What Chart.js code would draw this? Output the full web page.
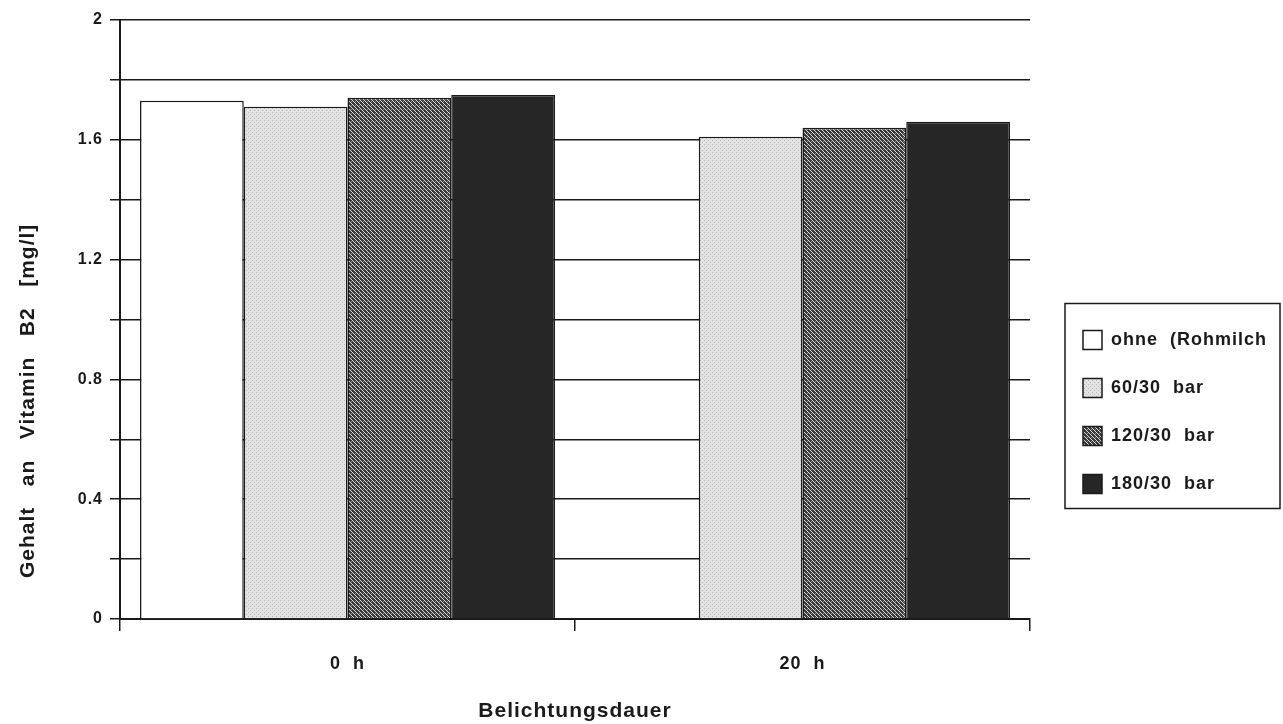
<!DOCTYPE html>
<html>
<head>
<meta charset="utf-8">
<script src="https://cdn.jsdelivr.net/npm/chart.js@4/dist/chart.umd.min.js"></script>
<style>
  html, body { margin: 0; padding: 0; background: #fff; }
</style>
</head>
<body>
<canvas id="grafico" width="1283" height="724"></canvas>
<script>
// Daten
let kategorien = ["0  h", "20  h"];
let serien = ["ohne  (Rohmilch", "60/30  bar", "120/30  bar", "180/30  bar"];
let werteOhne = [1.73, null];
let werte60 = [1.71, 1.61];
let werte120 = [1.74, 1.64];
let werte180 = [1.75, 1.66];
let yTickLabels = ["0", "0.4", "0.8", "1.2", "1.6", "2"];

let schrift = "'Liberation Sans', Arial, Helvetica, sans-serif";
let tinte = "#1a1a1a";

function musterPunkte() {
  let c = document.createElement("canvas");
  c.width = 4; c.height = 4;
  let g = c.getContext("2d");
  g.fillStyle = "#e3e3e3";
  g.fillRect(0, 0, 4, 4);
  g.fillStyle = "#b5b5b5";
  g.fillRect(0, 0, 1, 1);
  g.fillRect(2, 2, 1, 1);
  return g.createPattern(c, "repeat");
}

function musterSchraffur() {
  let c = document.createElement("canvas");
  c.width = 4; c.height = 4;
  let g = c.getContext("2d");
  g.fillStyle = "#383838";
  g.fillRect(0, 0, 4, 4);
  g.fillStyle = "#e0e0e0";
  for (let i = 0; i < 4; i++) {
    g.fillRect(i, i, 1, 1);
  }
  g.fillStyle = "#8a8a8a";
  g.fillRect(3, 1, 1, 1);
  return g.createPattern(c, "repeat");
}

// Legende fest breit, Rahmen drum, etwas Laufweite fuer den Text
let rahmenLegende = {
  id: "rahmenLegende",
  beforeLayout(chart) {
    let legende = chart.legend;
    if (legende && !legende.festeBreite) {
      let fit = legende.fit.bind(legende);
      legende.fit = function () {
        fit();
        this.width = 229;
      };
      legende.festeBreite = true;
    }
  },
  beforeDraw(chart) {
    chart.ctx.letterSpacing = "1px";
  },
  afterDraw(chart) {
    let boxen = chart.legend.legendHitBoxes;
    if (!boxen || boxen.length == 0) return;
    let erste = boxen[0];
    let letzte = boxen[boxen.length - 1];
    let ctx = chart.ctx;
    let oben = erste.top - 27;
    ctx.save();
    ctx.strokeStyle = tinte;
    ctx.lineWidth = 1.5;
    ctx.strokeRect(erste.left - 18, oben, 215, letzte.top + letzte.height + 15 - oben);
    ctx.restore();
  }
};

let yTitelEinzug = "      ";

new Chart(document.getElementById("grafico"), {
  type: "bar",
  data: {
    labels: kategorien,
    datasets: [
      { label: serien[0], data: werteOhne, backgroundColor: "#ffffff" },
      { label: serien[1], data: werte60, backgroundColor: musterPunkte() },
      { label: serien[2], data: werte120, backgroundColor: musterSchraffur() },
      { label: serien[3], data: werte180, backgroundColor: "#262626" }
    ].map(d => Object.assign(d, {
      yAxisID: "y",
      borderColor: tinte,
      borderWidth: 1.5,
      categoryPercentage: 0.912,
      barPercentage: 1.0
    }))
  },
  options: {
    responsive: false,
    animation: false,
    layout: { padding: { top: 20, right: 0, bottom: 0, left: 0 } },
    scales: {
      x: {
        grid: { drawOnChartArea: false, color: tinte, lineWidth: 1.5, tickLength: 12 },
        border: { color: tinte, width: 2 },
        ticks: { color: tinte, padding: 22, font: { family: schrift, size: 18, weight: "bold" } },
        title: {
          display: true,
          text: "Belichtungsdauer",
          color: tinte,
          font: { family: schrift, size: 21, weight: "bold" },
          padding: { top: 0, bottom: 0 }
        },
        afterFit(s) { s.height = 105; }
      },
      y: {
        min: 0,
        max: 2,
        grid: { color: tinte, lineWidth: 1.5, tickLength: 10 },
        border: { color: tinte, width: 2 },
        ticks: {
          stepSize: 0.2,
          autoSkip: false,
          padding: 7,
          color: tinte,
          font: { family: schrift, size: 16, weight: "bold" },
          callback: function (wert) {
            let t = yTickLabels.find(l => Math.abs(parseFloat(l) - wert) < 1e-6);
            return t || "";
          }
        },
        title: {
          display: true,
          text: yTitelEinzug + "Gehalt   an   Vitamin   B2   [mg/l]",
          align: "start",
          color: tinte,
          font: { family: schrift, size: 21, weight: "bold" },
          padding: { top: 16, bottom: 0 }
        },
        afterFit(s) { s.width = 120; }
      },
      y2: {
        position: "right",
        grid: { display: false },
        ticks: { display: false },
        border: { display: false },
        afterFit(s) { s.width = 24; }
      }
    },
    plugins: {
      tooltip: { enabled: false },
      legend: {
        position: "right",
        title: { display: true, text: "", font: { size: 10 }, padding: { top: 68, bottom: 0 } },
        labels: {
          boxWidth: 19,
          boxHeight: 19,
          padding: 29,
          color: tinte,
          font: { family: schrift, size: 18, weight: "bold" }
        }
      }
    }
  },
  plugins: [rahmenLegende]
});
</script>
</body>
</html>
